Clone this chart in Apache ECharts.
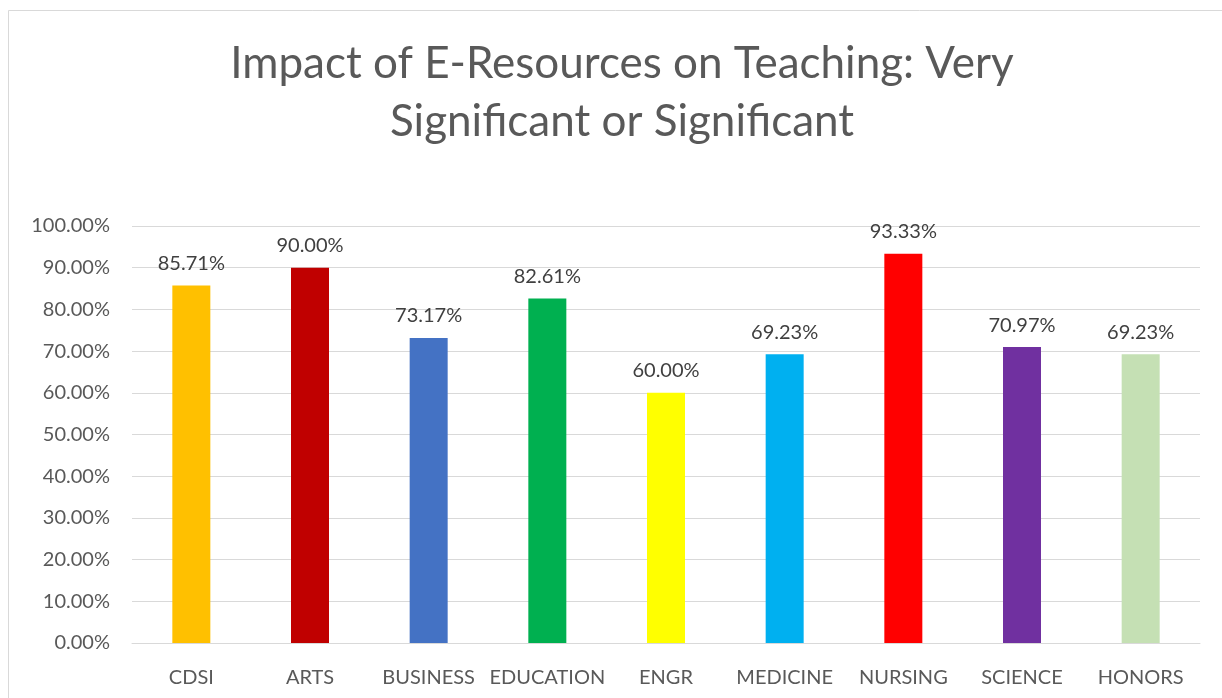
<!DOCTYPE html>
<html>
<head>
<meta charset="utf-8">
<script src="https://cdn.jsdelivr.net/npm/echarts@6/dist/echarts.min.js"></script>
<style>
html, body { margin: 0; padding: 0; background: #fff; }
#chart { width: 1222px; height: 698px; }
</style>
</head>
<body>
<div id="chart"></div>
<script>
let categories = ['CDSI', 'ARTS', 'BUSINESS', 'EDUCATION', 'ENGR', 'MEDICINE', 'NURSING', 'SCIENCE', 'HONORS'];
let values = [85.71, 90.00, 73.17, 82.61, 60.00, 69.23, 93.33, 70.97, 69.23];
let barColors = ['#FFC000', '#C00000', '#4472C4', '#00B050', '#FFFF00', '#00B0F0', '#FF0000', '#7030A0', '#C5E0B4'];

let font = 'Lato, "Open Sans", sans-serif';
let chart = echarts.init(document.getElementById('chart'));
let option = {
	backgroundColor: '#fff',
	animation: false,
	title: {
		text: 'Impact of E-Resources on Teaching: Very\nSignificant or Significant',
		left: 617,
		top: 30,
		textAlign: 'center',
		textStyle: {
			fontFamily: font,
			fontSize: 44,
			fontWeight: 'normal',
			color: '#595959',
			lineHeight: 58
		}
	},
	graphic: [{
		type: 'rect',
		shape: { x: 8.5, y: 10.5, width: 1230, height: 720 },
		style: { fill: 'none', stroke: '#d9d9d9', lineWidth: 1 },
		silent: true
	}],
	grid: { left: 132, right: 22, top: 226, bottom: 55 },
	xAxis: {
		type: 'category',
		data: categories,
		axisLine: { lineStyle: { color: '#d9d9d9', width: 1 } },
		axisTick: { show: false },
		axisLabel: { interval: 0, fontFamily: font, fontSize: 20, color: '#595959', margin: 25 }
	},
	yAxis: {
		type: 'value',
		min: 0,
		max: 100,
		interval: 10,
		axisLine: { show: false },
		axisTick: { show: false },
		splitLine: { lineStyle: { color: '#d9d9d9', width: 1 } },
		axisLabel: {
			fontFamily: font, fontSize: 20, color: '#595959', margin: 22,
			formatter: v => v.toFixed(2) + '%'
		}
	},
	series: [{
		type: 'bar',
		barWidth: 38,
		data: values.map((v, i) => ({ value: v, itemStyle: { color: barColors[i] } })),
		label: {
			show: true,
			position: 'top',
			distance: 12,
			fontFamily: font,
			fontSize: 20,
			color: '#404040',
			formatter: p => p.value.toFixed(2) + '%'
		}
	}]
};
chart.setOption(option);
</script>
</body>
</html>
